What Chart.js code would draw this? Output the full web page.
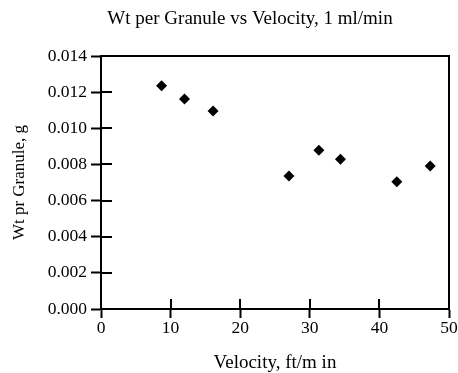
<!DOCTYPE html>
<html>
<head>
<meta charset="utf-8">
<script src="https://cdn.jsdelivr.net/npm/chart.js@4/dist/chart.umd.min.js"></script>
<style>
  html, body { margin: 0; padding: 0; background: #ffffff; }
  #wrap { width: 458px; height: 373px; }
</style>
</head>
<body>
<div id="wrap"><canvas id="c" width="458" height="373"></canvas></div>
<script>
const chartTitle = "Wt per Granule vs Velocity, 1 ml/min";
const xAxisTitle = "Velocity, ft/m in";
const yAxisTitle = "Wt pr Granule, g";
const velocity = [8.7, 12.0, 16.1, 27.0, 31.3, 34.4, 42.5, 47.3];
const wtPerGranule = [0.01236, 0.01162, 0.01096, 0.00736, 0.00878, 0.00828, 0.00704, 0.00791];
const xTicks = [0, 10, 20, 30, 40, 50];
const yTicks = [0.000, 0.002, 0.004, 0.006, 0.008, 0.010, 0.012, 0.014];

const FONT = "'Liberation Serif', 'Times New Roman', serif";

const frameAndTicks = {
  id: 'frameAndTicks',
  afterLayout(chart) {
    // shift the title centre to match the reference
    if (chart.titleBlock) { chart.titleBlock.left = 42; }
  },
  afterDatasetsDraw(chart) {
    const ctx = chart.ctx;
    const a = chart.chartArea;
    const xs = chart.scales.x, ys = chart.scales.y;
    ctx.save();
    ctx.strokeStyle = '#000';
    ctx.lineWidth = 2;
    ctx.beginPath();
    ctx.moveTo(a.left, a.top);
    ctx.lineTo(a.right, a.top);
    ctx.lineTo(a.right, a.bottom);
    ctx.stroke();
    // inner halves of crossing ticks
    ctx.beginPath();
    xTicks.forEach(v => {
      const px = Math.round(xs.getPixelForValue(v));
      ctx.moveTo(px, a.bottom);
      ctx.lineTo(px, a.bottom - 10);
    });
    yTicks.forEach(v => {
      const py = Math.round(ys.getPixelForValue(v));
      ctx.moveTo(a.left, py);
      ctx.lineTo(a.left + 11, py);
    });
    ctx.stroke();
    ctx.restore();
  }
};

new Chart(document.getElementById('c'), {
  type: 'scatter',
  data: {
    datasets: [{
      data: velocity.map((v, i) => ({ x: v, y: wtPerGranule[i] })),
      pointStyle: 'rectRot',
      pointRadius: 5.5,
      pointHoverRadius: 5.5,
      backgroundColor: '#000',
      borderColor: '#000',
      borderWidth: 0
    }]
  },
  options: {
    responsive: false,
    animation: false,
    devicePixelRatio: 1,
    layout: { padding: 0 },
    plugins: {
      legend: { display: false },
      tooltip: { enabled: false },
      title: {
        display: true,
        text: chartTitle,
        color: '#000',
        font: { family: FONT, size: 19, weight: 'normal', lineHeight: 1 },
        padding: { top: 10, bottom: 27 }
      }
    },
    scales: {
      x: {
        type: 'linear',
        min: 0, max: 50,
        afterBuildTicks(scale) { scale.ticks = xTicks.map(v => ({ value: v })); },
        afterFit(scale) { scale.height = 64; scale.paddingRight = 9; },
        border: { display: true, color: '#000', width: 2 },
        grid: { drawOnChartArea: false, drawTicks: true, tickLength: 9, tickWidth: 2, tickColor: '#000', color: '#000' },
        ticks: { color: '#000', padding: 0, font: { family: FONT, size: 17.5 }, maxRotation: 0 },
        title: {
          display: true, text: xAxisTitle, color: '#000',
          font: { family: FONT, size: 19, lineHeight: 1 },
          padding: { top: 0, bottom: 0 }
        }
      },
      y: {
        type: 'linear',
        min: 0, max: 0.014,
        afterBuildTicks(scale) { scale.ticks = yTicks.map(v => ({ value: v })); },
        afterFit(scale) { scale.width = 101; },
        border: { display: true, color: '#000', width: 2 },
        grid: { drawOnChartArea: false, drawTicks: true, tickLength: 10, tickWidth: 2, tickColor: '#000', color: '#000' },
        ticks: {
          color: '#000', padding: 4, font: { family: FONT, size: 17.5 },
          callback: v => Number(v).toFixed(3)
        },
        title: {
          display: true, text: yAxisTitle, color: '#000',
          font: { family: FONT, size: 17, lineHeight: 1 },
          padding: { top: 11.5, bottom: 0 }
        }
      }
    }
  },
  plugins: [frameAndTicks]
});
</script>
</body>
</html>
